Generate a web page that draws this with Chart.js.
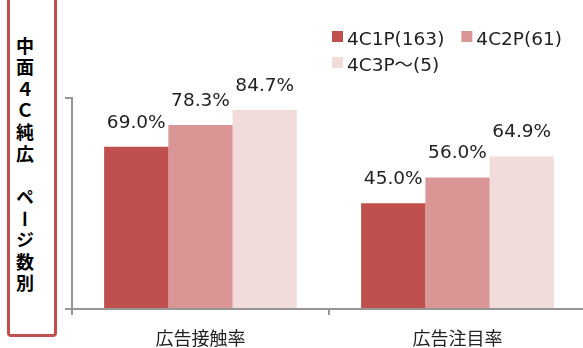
<!DOCTYPE html>
<html>
<head>
<meta charset="utf-8">
<script src="https://cdn.jsdelivr.net/npm/chart.js@4"></script>
<style>
  html, body { margin: 0; padding: 0; background: #fff; }
  body { width: 583px; height: 348px; overflow: hidden; position: relative; }
  #wrap { position: absolute; left: 0; top: 0; width: 600px; height: 360px; }
  #side {
    position: absolute; left: 7px; top: -12px; width: 44px; height: 343px;
    border: 3px solid #C0504D; border-radius: 4px; background: #fff; z-index: 2;
  }
  #side span {
    position: absolute; left: 10px; top: 46px; width: 18px;
    writing-mode: vertical-rl; line-height: 18px; letter-spacing: 3.6px;
    font: bold 18px "Noto Sans CJK JP", sans-serif; color: #000;
  }
</style>
</head>
<body>
<div id="side"><span>中面４Ｃ純広　ページ数別</span></div>
<div id="wrap"><canvas id="chart" width="600" height="360"></canvas></div>
<script>
// Categories, series and values
const categories = ['広告接触率', '広告注目率'];
const seriesLabels = ['4C1P(163)', '4C2P(61)', '4C3P～(5)'];
const series1 = [69.0, 45.0];
const series2 = [78.3, 56.0];
const series3 = [84.7, 64.9];
const seriesColors = ['#C0504D', '#D99694', '#F2DCDB'];
const axisMin = 0;
const axisMax = 90;

const latinFont = '"DejaVu Sans", "Noto Sans CJK JP", sans-serif';
const axisGrey = '#969696';

// Percentage labels above each bar
const valueLabels = {
  id: 'valueLabels',
  afterDatasetsDraw(chart) {
    const ctx = chart.ctx;
    ctx.save();
    ctx.font = '18.5px ' + latinFont;
    ctx.fillStyle = '#222';
    ctx.textAlign = 'center';
    ctx.textBaseline = 'alphabetic';
    chart.data.datasets.forEach((ds, di) => {
      chart.getDatasetMeta(di).data.forEach((bar, i) => {
        ctx.fillText(ds.data[i].toFixed(1) + '%', bar.x, bar.y - 19);
      });
    });
    ctx.restore();
  }
};

// Two-per-row legend in the upper right
const rowLegend = {
  id: 'rowLegend',
  afterDraw(chart) {
    const ctx = chart.ctx;
    const startX = 332, startY = 31, box = 11, gapText = 4, gapItem = 17, rowStep = 26;
    ctx.save();
    ctx.font = '18.5px ' + latinFont;
    ctx.textAlign = 'left';
    ctx.textBaseline = 'alphabetic';
    let x = startX, y = startY;
    chart.data.datasets.forEach((ds, i) => {
      if (i > 0 && i % 2 === 0) { x = startX; y += rowStep; }
      ctx.fillStyle = ds.backgroundColor;
      ctx.fillRect(x, y, box, box);
      ctx.fillStyle = '#222';
      ctx.fillText(ds.label, x + box + gapText, y + 13.5);
      x += box + gapText + ctx.measureText(ds.label).width + gapItem;
    });
    ctx.restore();
  }
};

new Chart(document.getElementById('chart'), {
  type: 'bar',
  data: {
    labels: categories,
    datasets: [
      { label: seriesLabels[0], data: series1, backgroundColor: seriesColors[0] },
      { label: seriesLabels[1], data: series2, backgroundColor: seriesColors[1] },
      { label: seriesLabels[2], data: series3, backgroundColor: seriesColors[2] }
    ]
  },
  options: {
    responsive: false,
    animation: false,
    devicePixelRatio: 1,
    categoryPercentage: 0.75,
    barPercentage: 1.0,
    layout: { padding: { top: 97.5, right: 14, bottom: 0, left: 0 } },
    plugins: {
      legend: { display: false },
      tooltip: { enabled: false },
      title: { display: false }
    },
    scales: {
      x: {
        offset: true,
        grid: {
          offset: true, drawOnChartArea: false, drawTicks: true,
          tickLength: 6, color: axisGrey, lineWidth: 2
        },
        border: { display: true, color: axisGrey, width: 2 },
        ticks: {
          padding: 12, color: '#222',
          font: { family: '"Noto Sans CJK JP", sans-serif', size: 18 }
        },
        afterFit(scale) { scale.height = 51; }
      },
      y: {
        min: axisMin, max: axisMax,
        ticks: { display: false, stepSize: axisMax - axisMin },
        grid: {
          drawOnChartArea: false, drawTicks: true,
          tickLength: 7, color: axisGrey, lineWidth: 2
        },
        border: { display: true, color: axisGrey, width: 2 },
        afterFit(scale) { scale.width = 72; }
      }
    }
  },
  plugins: [valueLabels, rowLegend]
});
</script>
</body>
</html>
